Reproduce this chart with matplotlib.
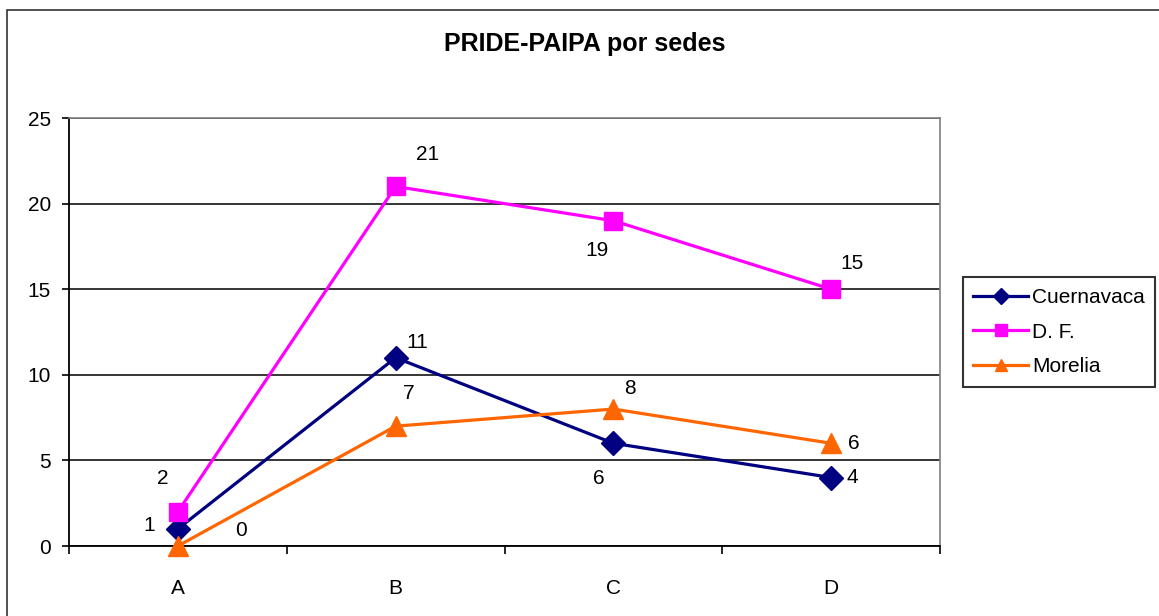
import matplotlib
matplotlib.use("Agg")
import matplotlib.pyplot as plt
from matplotlib.patches import Rectangle

plt.rcParams['font.family'] = ['Liberation Sans', 'DejaVu Sans']

categories = ["A", "B", "C", "D"]
series_names = ["Cuernavaca", "D. F.", "Morelia"]
cuernavaca = [1, 11, 6, 4]
df_vals = [2, 21, 19, 15]
morelia = [0, 7, 8, 6]
y_ticks = [0, 5, 10, 15, 20, 25]

# label offsets in pixels (dx, dy) per series
cue_off = [(-29, 3), (22, 15), (-15, -35), (21, 0)]
df_off = [(-15, 33), (32, 32), (-16, -30), (21, 26)]
mor_off = [(63, 16), (13, 33), (17, 21), (23, 0)]

W, H = 1159, 616
fig = plt.figure(figsize=(W / 100, H / 100), dpi=100)
fig.patch.set_facecolor('white')

# outer chart border
fig.add_artist(Rectangle((7 / W, -0.05), 1.2, 1 - 10 / H + 0.05, transform=fig.transFigure,
                         fill=False, edgecolor='#333333', linewidth=1.2))

L, R, T, B = 69, 940, 118, 546
ax = fig.add_axes([L / W, 1 - B / H, (R - L) / W, (B - T) / H])
x = list(range(len(categories)))

series = [
    (cuernavaca, '#000080', 'D', 12, cue_off),
    (df_vals, '#FF00FF', 's', 13, df_off),
    (morelia, '#FF6600', '^', 14, mor_off),
]
for (vals, col, mk, ms, offs), name in zip(series, series_names):
    ax.plot(x, vals, color=col, marker=mk, markersize=ms, linewidth=2.3,
            markeredgecolor=col, markerfacecolor=col, label=name, zorder=3, clip_on=False)
    for xi, v, (dx, dy) in zip(x, vals, offs):
        ax.annotate(str(v), (xi, v), xytext=(dx * 0.72, dy * 0.72), textcoords='offset points',
                    ha='center', va='center', fontsize=15, color='black', zorder=4)

ax.set_xlim(-0.5, 3.5)
ax.set_ylim(0, 25)
ax.set_yticks(y_ticks)
ax.set_yticklabels([str(t) for t in y_ticks])
ax.set_xticks([-0.5, 0.5, 1.5, 2.5, 3.5])
ax.set_xticklabels([])
ax.set_xticks(x, minor=True)
ax.set_xticklabels(categories, minor=True)
ax.tick_params(axis='x', which='major', length=6, width=1.2, direction='out', color='black')
ax.tick_params(axis='x', which='minor', length=0, pad=24, labelsize=15)
ax.tick_params(axis='y', length=5, width=1.2, direction='out', pad=8, labelsize=15)

ax.grid(axis='y', color='black', linewidth=1.1, zorder=1)
ax.set_axisbelow(True)
for s in ['top', 'right']:
    ax.spines[s].set_color('#808080')
    ax.spines[s].set_linewidth(1.2)
for s in ['left', 'bottom']:
    ax.spines[s].set_color('black')
    ax.spines[s].set_linewidth(1.3)

fig.text(585 / W, 1 - 44 / H, "PRIDE-PAIPA por sedes", ha='center', va='center',
         fontsize=18, fontweight='bold')

leg = fig.legend(loc='center left', bbox_to_anchor=(963 / W, 1 - 332 / H), fontsize=15,
                 frameon=True, fancybox=False, edgecolor='black', handlelength=2.6,
                 handletextpad=0.2, labelspacing=0.75, borderpad=0.5, borderaxespad=0)
leg.get_frame().set_linewidth(1.5)
for h in leg.legend_handles:
    h.set_markersize(8)

fig.savefig("out.png", dpi=100, facecolor='white')
